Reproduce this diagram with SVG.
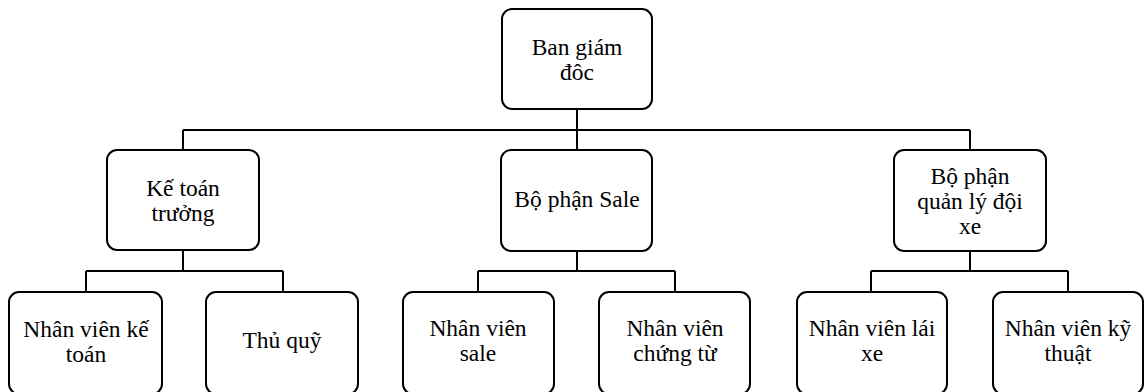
<svg xmlns="http://www.w3.org/2000/svg" width="1144" height="392" viewBox="0 0 1144 392">
<style>
.box{fill:#fff;stroke:#000;stroke-width:2}
text{font-family:'Liberation Serif','Times New Roman',serif;font-size:23.5px;fill:#000;text-anchor:middle}
.con{fill:none;stroke:#000;stroke-width:2}
</style>
<rect width="1144" height="392" fill="#fff"/>
<g id="connectors" class="con">
<path d="M577 109V130M183 130H970M183 130V150M577 130V150M970 130V150"/>
<path d="M183 250V271M86 271H283M86 271V292M283 271V292"/>
<path d="M577 251V271M478 271H675M478 271V292M675 271V292"/>
<path d="M970 251V271M871 271H1068M871 271V292M1068 271V292"/>
</g>
<g id="n-bgd"><rect class="box" x="502" y="9" width="150" height="100" rx="10"/><text x="577" y="55">Ban giám</text><text x="577" y="80">đôc</text></g>
<g id="n-ktt"><rect class="box" x="107" y="150" width="152" height="100" rx="10"/><text x="183" y="196">Kế toán</text><text x="183" y="221">trưởng</text></g>
<g id="n-sale"><rect class="box" x="501" y="150" width="151" height="101" rx="10"/><text x="577" y="207">Bộ phận Sale</text></g>
<g id="n-xe"><rect class="box" x="894" y="150" width="152" height="101" rx="10"/><text x="970" y="184">Bộ phận</text><text x="970" y="209">quản lý đội</text><text x="970" y="234">xe</text></g>
<g id="n-nvkt"><rect class="box" x="9" y="292" width="153" height="102" rx="10"/><text x="86" y="337">Nhân viên kế</text><text x="86" y="362">toán</text></g>
<g id="n-tq"><rect class="box" x="206" y="292" width="152" height="102" rx="10"/><text x="282" y="348">Thủ quỹ</text></g>
<g id="n-nvs"><rect class="box" x="403" y="292" width="151" height="102" rx="10"/><text x="478" y="336">Nhân viên</text><text x="478" y="361">sale</text></g>
<g id="n-nvct"><rect class="box" x="599" y="292" width="151" height="102" rx="10"/><text x="675" y="336">Nhân viên</text><text x="675" y="361">chứng từ</text></g>
<g id="n-nvlx"><rect class="box" x="797" y="292" width="150" height="102" rx="10"/><text x="872" y="336">Nhân viên lái</text><text x="872" y="361">xe</text></g>
<g id="n-nvkth"><rect class="box" x="993" y="292" width="150" height="102" rx="10"/><text x="1068" y="336">Nhân viên kỹ</text><text x="1068" y="361">thuật</text></g>
</svg>
